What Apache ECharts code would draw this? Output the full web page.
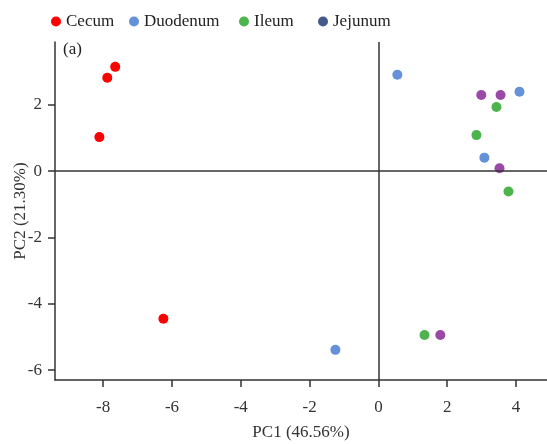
<!DOCTYPE html>
<html>
<head>
<meta charset="utf-8">
<script src="https://cdn.jsdelivr.net/npm/echarts@6/dist/echarts.min.js"></script>
<style>
  html, body { margin: 0; padding: 0; background: #fff; }
  #chart { width: 547px; height: 444px; }
</style>
</head>
<body>
<div id="chart"></div>
<script>
var groups = ['Cecum', 'Duodenum', 'Ileum', 'Jejunum'];
var colors = ['#ff0000', '#6591d9', '#4db34d', '#9a4aa6'];
var legendColors = ['#ff0000', '#6591d9', '#4db34d', '#455a8c'];
var legendLeft = [46, 124, 234, 313];

var cecum    = [[-7.65, 3.15], [-7.88, 2.82], [-8.11, 1.03], [-6.25, -4.45]];
var duodenum = [[0.55, 2.91], [4.10, 2.40], [3.08, 0.41], [-1.25, -5.39]];
var ileum    = [[3.43, 1.94], [2.85, 1.09], [3.78, -0.61], [1.34, -4.94]];
var jejunum  = [[2.99, 2.30], [3.55, 2.30], [3.52, 0.09], [1.80, -4.94]];

var xTicks = [-8, -6, -4, -2, 0, 2, 4];
var yTicks = [-6, -4, -2, 0, 2];

var chart = echarts.init(document.getElementById('chart'));
var font = 'Liberation Serif';
var txt = '#333';

var allData = [cecum, duodenum, ileum, jejunum];
var series = [];
var legends = [];
for (var i = 0; i < groups.length; i++) {
    series.push({
        name: groups[i],
        type: 'scatter',
        symbolSize: 10,
        itemStyle: { color: colors[i], opacity: 1 },
        data: allData[i]
    });
    // one legend per item so the spacing follows the picture
    legends.push({
        left: legendLeft[i],
        top: 8,
        itemWidth: 10,
        itemHeight: 10,
        selectedMode: false,
        textStyle: { fontFamily: font, fontSize: 17, color: '#222' },
        data: [{ name: groups[i], icon: 'circle', itemStyle: { color: legendColors[i], opacity: 1 } }]
    });
}
// zero lines through the origin
series[0].markLine = {
    silent: true,
    symbol: 'none',
    label: { show: false },
    lineStyle: { color: '#333', width: 1.5, type: 'solid' },
    data: [{ xAxis: 0 }, { yAxis: 0 }]
};

var option = {
    animation: false,
    textStyle: { fontFamily: font },
    legend: legends,
    graphic: [{
        type: 'text',
        left: 63,
        top: 41,
        style: { text: '(a)', font: '17px "Liberation Serif"', fill: '#222' }
    }],
    grid: { left: 55, right: 0, top: 42, bottom: 64, outerBoundsMode: 'none', containLabel: false },
    xAxis: {
        type: 'value',
        min: -9.4,
        max: 4.9,
        name: 'PC1 (46.56%)',
        nameLocation: 'middle',
        nameGap: 44,
        nameMoveOverlap: false,
        nameTextStyle: { fontFamily: font, fontSize: 17, color: txt },
        axisLine: { show: true, onZero: false, lineStyle: { color: '#333', width: 1.5 } },
        axisTick: { show: true, length: 7, customValues: xTicks, lineStyle: { color: '#333', width: 1.5 } },
        axisLabel: { customValues: xTicks, fontFamily: font, fontSize: 17, color: txt, margin: 19 },
        splitLine: { show: false }
    },
    yAxis: {
        type: 'value',
        min: -6.3,
        max: 3.9,
        name: 'PC2 (21.30%)',
        nameLocation: 'middle',
        nameGap: 26,
        nameMoveOverlap: false,
        nameTextStyle: { fontFamily: font, fontSize: 17, color: txt },
        axisLine: { show: true, onZero: false, lineStyle: { color: '#333', width: 1.5 } },
        axisTick: { show: true, length: 7, customValues: yTicks, lineStyle: { color: '#333', width: 1.5 } },
        axisLabel: { customValues: yTicks, fontFamily: font, fontSize: 17, color: txt, margin: 13 },
        splitLine: { show: false }
    },
    series: series
};

chart.setOption(option);
</script>
</body>
</html>
